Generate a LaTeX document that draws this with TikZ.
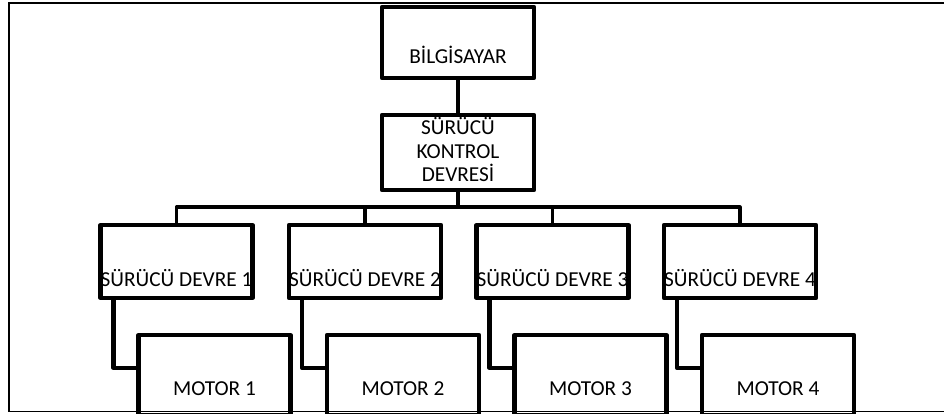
\documentclass[tikz,border=0pt]{standalone}
\usepackage{fontspec}
\setmainfont{Carlito}
\usetikzlibrary{calc}
\begin{document}
\begin{tikzpicture}[x=1pt,y=-1pt,
  box/.style={draw=black,line width=4.2pt,line join=round,minimum width=152pt,inner sep=0pt,fill=white},
  lbl/.style={font=\fontsize{21.3}{25}\selectfont,inner sep=0pt,anchor=base},
  wire/.style={draw=black,line width=4.2pt,line join=round},
  buswire/.style={draw=black,line width=3.2pt,line join=round},
  frame/.style={draw=black,line width=1.8pt}]
\useasboundingbox (0,0) rectangle (944,414);
% outer frame (no right side)
\draw[frame] (944,3) -- (9,3) -- (9,411.5) -- (944,411.5);
% top boxes
\node[box,minimum height=71pt] (pc) at (458,42.5) {};
\node[lbl] (pct) at (458,64) {BİLGİSAYAR};
\node[box,minimum height=75pt] (ctrl) at (458,152.5) {};
\node[lbl] (ct1) at (458,135) {SÜRÜCÜ};
\node[lbl] (ct2) at (458,159) {KONTROL};
\node[lbl] (ct3) at (458,182) {DEVRESİ};
\draw[wire] (pc.south) -- (ctrl.north);
\coordinate (bus) at (458,207);
\draw[wire] (ctrl.south) -- (bus);
% driver and motor boxes
\foreach \i/\x in {1/176.5,2/365,3/552.5,4/740}{
  \node[box,minimum height=73pt] (d\i) at (\x,261.5) {};
  \node[lbl] (dt\i) at (\x,286) {SÜRÜCÜ DEVRE \i};
  \node[box,minimum height=80pt] (m\i) at (\x+38,375) {};
  \node[lbl] (mt\i) at (\x+38,395) {MOTOR \i};
  \draw[wire] ([xshift=15pt]d\i.south west) |- ([yshift=-35pt]m\i.north west);
}
\draw[frame] (9,411.5) -- (944,411.5);
% bus
\draw[buswire] (d1.north) |- (bus) -| (d4.north);
\draw[buswire] (d2.north) -- (d2.north |- bus);
\draw[buswire] (d3.north) -- (d3.north |- bus);
\end{tikzpicture}
\end{document}
